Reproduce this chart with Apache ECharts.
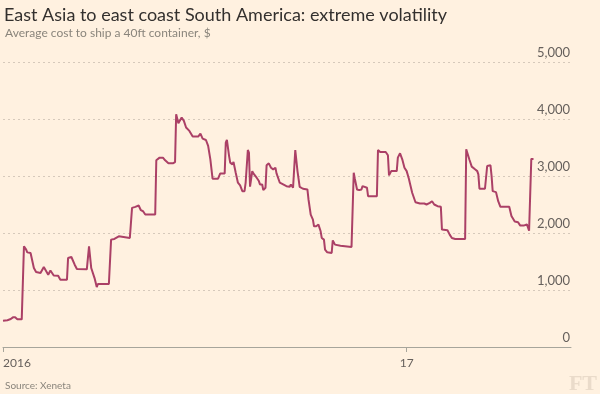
<!DOCTYPE html>
<html><head><meta charset="utf-8">
<script src="https://cdn.jsdelivr.net/npm/echarts@6/dist/echarts.min.js"></script>
<style>html,body{margin:0;padding:0;background:#fff1e0}#c{width:600px;height:394px}</style>
</head><body><div id="c"></div>
<script>
const dates = [
'2016-01-01','2016-01-05','2016-01-08','2016-01-10','2016-01-12','2016-01-14','2016-01-18','2016-01-20','2016-01-22','2016-01-23',
'2016-01-26','2016-01-27','2016-01-29','2016-01-31','2016-02-04','2016-02-05','2016-02-07','2016-02-08','2016-02-11','2016-02-13',
'2016-02-14','2016-02-16','2016-02-20','2016-02-22','2016-02-28','2016-02-29','2016-03-03','2016-03-06','2016-03-08','2016-03-17',
'2016-03-19','2016-03-21','2016-03-24','2016-03-26','2016-03-27','2016-04-06','2016-04-08','2016-04-11','2016-04-15','2016-04-16',
'2016-04-25','2016-04-27','2016-04-30','2016-05-03','2016-05-05','2016-05-07','2016-05-09','2016-05-18','2016-05-19','2016-05-22',
'2016-05-25','2016-05-27','2016-05-30','2016-06-03','2016-06-05','2016-06-06','2016-06-08','2016-06-11','2016-06-13','2016-06-15',
'2016-06-18','2016-06-21','2016-06-26','2016-06-28','2016-06-30','2016-07-03','2016-07-05','2016-07-07','2016-07-09','2016-07-14',
'2016-07-16','2016-07-20','2016-07-21','2016-07-22','2016-07-24','2016-07-25','2016-07-27','2016-07-28','2016-07-30','2016-08-01',
'2016-08-03','2016-08-05','2016-08-07','2016-08-08','2016-08-10','2016-08-11','2016-08-12','2016-08-14','2016-08-15','2016-08-18',
'2016-08-20','2016-08-21','2016-08-23','2016-08-24','2016-08-26','2016-08-27','2016-08-29','2016-08-31','2016-09-02','2016-09-04',
'2016-09-05','2016-09-08','2016-09-11','2016-09-14','2016-09-17','2016-09-18','2016-09-20','2016-09-21','2016-09-22','2016-09-24',
'2016-09-26','2016-09-29','2016-09-30','2016-10-03','2016-10-04','2016-10-06','2016-10-08','2016-10-09','2016-10-11','2016-10-13',
'2016-10-15','2016-10-16','2016-10-18','2016-10-19','2016-10-21','2016-10-25','2016-10-26','2016-10-28','2016-11-02','2016-11-03',
'2016-11-12','2016-11-14','2016-11-15','2016-11-17','2016-11-19','2016-11-21','2016-11-22','2016-11-23','2016-11-26','2016-11-27',
'2016-12-05','2016-12-06','2016-12-08','2016-12-13','2016-12-15','2016-12-16','2016-12-18','2016-12-23','2016-12-24','2016-12-26',
'2016-12-28','2016-12-30','2017-01-01','2017-01-03','2017-01-04','2017-01-06','2017-01-09','2017-01-13','2017-01-17','2017-01-19',
'2017-01-20','2017-01-22','2017-01-24','2017-01-26','2017-01-27','2017-01-29','2017-02-01','2017-02-02','2017-02-07','2017-02-09',
'2017-02-11','2017-02-14','2017-02-23','2017-02-24','2017-02-25','2017-02-27','2017-02-28','2017-03-01','2017-03-04','2017-03-06',
'2017-03-07','2017-03-08','2017-03-13','2017-03-15','2017-03-18','2017-03-19','2017-03-20','2017-03-23','2017-03-25','2017-03-27',
'2017-04-04','2017-04-06','2017-04-09','2017-04-12','2017-04-14','2017-04-17','2017-04-18','2017-04-20','2017-04-22','2017-04-23',
'2017-04-24','2017-04-26'
];
const costs = [
460,470,490,520,520,485,485,1766,1708,1660,
1650,1620,1385,1315,1297,1297,1403,1403,1268,1343,
1356,1255,1250,1180,1180,1561,1579,1444,1368,1362,
1766,1385,1209,1051,1104,1104,1884,1896,1942,1913,
1913,2441,2459,2482,2400,2382,2324,2324,3275,3322,
3322,3275,3222,3222,3245,4085,3926,4026,3967,3850,
3791,3692,3692,3745,3657,3632,3527,3292,2952,2952,
3046,3046,3586,3632,3350,3234,3204,3245,3058,2882,
2835,2734,2734,2882,3456,3410,2812,3086,3046,2970,
2911,2852,2852,2752,2794,3187,3222,3146,3116,3146,
3046,2882,2852,2822,2811,2852,2794,2794,3456,3086,
2811,2776,2752,2764,2588,2324,2236,2118,2118,2148,
2030,1913,1884,1708,1661,1649,1871,1796,1778,1755,
1755,3058,2952,2764,2752,2764,2822,2852,2794,2646,
2646,3456,3421,3421,3363,3011,3086,3086,3322,3398,
3292,3146,3086,2952,2870,2706,2540,2517,2517,2500,
2470,2529,2558,2500,2529,2470,2459,2060,2048,1972,
1913,1896,1896,3468,3439,3280,3263,3164,3117,3086,
3028,2776,2776,3175,3187,2999,2734,2717,2558,2459,
2459,2300,2200,2189,2130,2130,2160,2150,2040,2060,
3300,3300
];
const xTickDates = ['2016-01-01','2017-01-01'];
const xTickLabels = ['2016','17'];
const xRange = ['2016-01-01','2017-05-30'];
const yTicks = [0,1000,2000,3000,4000,5000];

const ts = d => Date.parse(d + 'T00:00:00Z');
const xTickValues = xTickDates.map(ts);
const chart = echarts.init(document.getElementById('c'), null, {renderer:'canvas'});
const txt = '#66605c';
chart.setOption({
  backgroundColor:'#fff1e0',
  animation:false,
  title:[
    {text:'East Asia to east coast South America: extreme volatility', left:-1, top:1,
     textStyle:{fontFamily:'Lato', fontWeight:'normal', fontSize:18, color:'#33302e'}},
    {text:'Average cost to ship a 40ft container, $', left:0, top:22,
     textStyle:{fontFamily:'Lato', fontWeight:'normal', fontSize:12, color:'#8a857c'}},
    {text:'Source: Xeneta', left:0, top:376,
     textStyle:{fontFamily:'Lato', fontWeight:'normal', fontSize:10, color:'#8a857c'}}
  ],
  graphic:[{type:'text', right:3, top:373, style:{text:'FT', font:'bold 22px "Liberation Serif"', fill:'#eadbca'}}],
  grid:{left:1, right:29, top:62, bottom:47},
  xAxis:{
    type:'value', min:ts(xRange[0]), max:ts(xRange[1]),
    axisLine:{lineStyle:{color:'#a7a59b', width:1}},
    axisTick:{show:true, customValues:xTickValues, length:5, lineStyle:{color:'#a7a59b'}},
    axisLabel:{customValues:xTickValues, color:txt, fontFamily:'Lato', fontSize:12, margin:10,
      formatter:(v)=>{const i = xTickValues.indexOf(v); return i>=0 ? xTickLabels[i] : '';},
      alignMinLabel:'left'},
    splitLine:{show:false}
  },
  yAxis:{
    type:'value', position:'right', min:yTicks[0], max:yTicks[yTicks.length-1], interval:1000,
    axisLine:{show:false}, axisTick:{show:false},
    axisLabel:{inside:true, margin:1, verticalAlign:'bottom', padding:[0,0,3,0], color:txt, fontFamily:'Lato', fontSize:13,
      formatter:(v)=>v.toLocaleString('en-US')},
    splitLine:{lineStyle:{color:'#d6c9bb', type:[2,3], width:1}}
  },
  series:[{
    type:'line', data:dates.map((d,i)=>[ts(d),costs[i]]), showSymbol:false,
    lineStyle:{color:'#ab4066', width:2}, z:3
  }]
});
</script></body></html>
